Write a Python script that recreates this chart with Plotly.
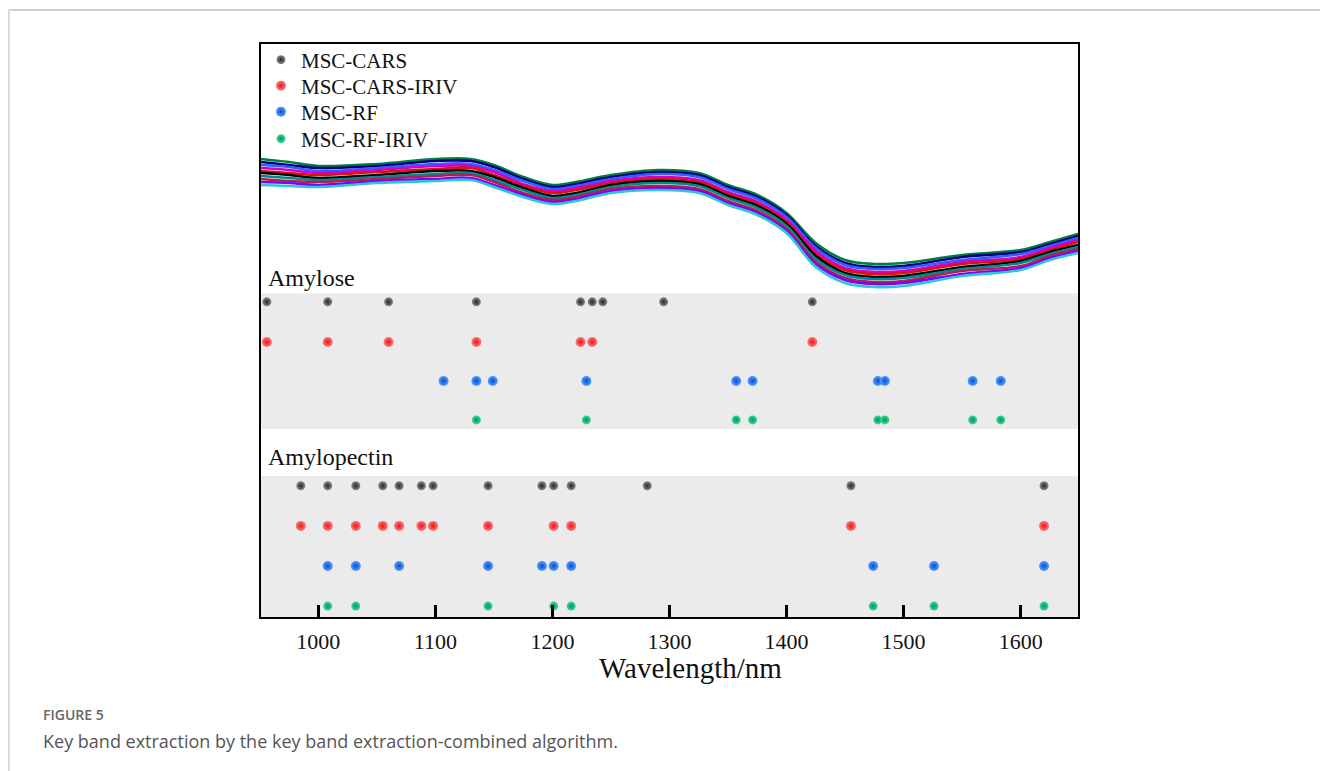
import plotly.graph_objects as go

# ---- spectra (reflectance) sampled at these wavelengths ----
wavelengths = [951, 975, 1000, 1050, 1100, 1130, 1150, 1175, 1200, 1220, 1250, 1290,
               1325, 1350, 1375, 1400, 1425, 1450, 1475, 1500, 1550, 1600, 1625, 1649]

spectrum_01 = [0.541, 0.538, 0.534, 0.536, 0.541, 0.541, 0.535, 0.523, 0.515, 0.518, 0.525, 0.530,
               0.527, 0.515, 0.505, 0.487, 0.457, 0.440, 0.436, 0.437, 0.445, 0.450, 0.458, 0.466]
spectrum_02 = [0.538, 0.535, 0.532, 0.534, 0.539, 0.539, 0.533, 0.521, 0.513, 0.516, 0.523, 0.528,
               0.525, 0.513, 0.503, 0.485, 0.454, 0.437, 0.433, 0.434, 0.443, 0.448, 0.456, 0.464]
spectrum_03 = [0.535, 0.533, 0.529, 0.532, 0.536, 0.536, 0.530, 0.519, 0.511, 0.514, 0.521, 0.526,
               0.523, 0.511, 0.501, 0.483, 0.452, 0.435, 0.431, 0.432, 0.440, 0.446, 0.454, 0.462]
spectrum_04 = [0.532, 0.530, 0.527, 0.530, 0.534, 0.534, 0.528, 0.516, 0.509, 0.512, 0.519, 0.523,
               0.520, 0.508, 0.498, 0.480, 0.449, 0.432, 0.428, 0.429, 0.438, 0.443, 0.452, 0.460]
spectrum_05 = [0.529, 0.527, 0.525, 0.528, 0.531, 0.532, 0.525, 0.514, 0.507, 0.510, 0.517, 0.521,
               0.518, 0.506, 0.496, 0.478, 0.446, 0.430, 0.426, 0.427, 0.436, 0.441, 0.450, 0.458]
spectrum_06 = [0.527, 0.525, 0.522, 0.525, 0.529, 0.529, 0.523, 0.512, 0.504, 0.507, 0.515, 0.519,
               0.516, 0.504, 0.494, 0.476, 0.444, 0.427, 0.423, 0.424, 0.433, 0.439, 0.448, 0.455]
spectrum_07 = [0.524, 0.522, 0.520, 0.523, 0.526, 0.527, 0.520, 0.510, 0.502, 0.505, 0.513, 0.517,
               0.514, 0.502, 0.492, 0.474, 0.441, 0.425, 0.421, 0.422, 0.431, 0.437, 0.446, 0.453]
spectrum_08 = [0.521, 0.519, 0.518, 0.521, 0.524, 0.525, 0.518, 0.507, 0.500, 0.503, 0.511, 0.514,
               0.511, 0.499, 0.489, 0.471, 0.438, 0.422, 0.418, 0.419, 0.429, 0.434, 0.444, 0.451]
spectrum_09 = [0.518, 0.517, 0.515, 0.519, 0.521, 0.522, 0.515, 0.505, 0.498, 0.501, 0.509, 0.512,
               0.509, 0.497, 0.487, 0.469, 0.436, 0.420, 0.416, 0.417, 0.426, 0.432, 0.442, 0.449]
spectrum_10 = [0.515, 0.514, 0.513, 0.517, 0.519, 0.520, 0.513, 0.503, 0.496, 0.499, 0.507, 0.510,
               0.507, 0.495, 0.485, 0.467, 0.433, 0.417, 0.413, 0.414, 0.424, 0.430, 0.440, 0.447]

spectra = [spectrum_01, spectrum_02, spectrum_03, spectrum_04, spectrum_05,
           spectrum_06, spectrum_07, spectrum_08, spectrum_09, spectrum_10]
spectrum_colors = ["#008040", "#000080", "#2f5fff", "#d000d0", "#e01010",
                   "#000000", "#008a8a", "#b02050", "#8000ff", "#30c8d0"]

# ---- selected key bands (nm) ----
methods = ["MSC-CARS", "MSC-CARS-IRIV", "MSC-RF", "MSC-RF-IRIV"]

amylose_cars = [956, 1008, 1060, 1135, 1224, 1234, 1243, 1295, 1422]
amylose_cars_iriv = [956, 1008, 1060, 1135, 1224, 1234, 1422]
amylose_rf = [1107, 1135, 1149, 1229, 1357, 1371, 1478, 1484, 1559, 1583]
amylose_rf_iriv = [1135, 1229, 1357, 1371, 1478, 1484, 1559, 1583]

amylopectin_cars = [985, 1008, 1032, 1055, 1069, 1088, 1098, 1145, 1191, 1201, 1216, 1281, 1455, 1620]
amylopectin_cars_iriv = [985, 1008, 1032, 1055, 1069, 1088, 1098, 1145, 1201, 1216, 1455, 1620]
amylopectin_rf = [1008, 1032, 1069, 1145, 1191, 1201, 1216, 1474, 1526, 1620]
amylopectin_rf_iriv = [1008, 1032, 1145, 1201, 1216, 1474, 1526, 1620]

tick_values = [1000, 1100, 1200, 1300, 1400, 1500, 1600]

# ---- styling ----
dot_fill = ["#8a8a8a", "#ff7a7a", "#5a9cff", "#3fd898"]
dot_edge = ["#262626", "#e8161c", "#0052cc", "#00955a"]
dot_size = [9, 10, 10, 9]

# vertical slots (primary y axis, 0..100) for the band rows
amylose_rows = [55.0, 48.0, 41.2, 34.4]
amylopectin_rows = [22.9, 15.9, 8.9, 1.9]

# plot area in pixels, used to place page-level decorations
PL, PR, PT, PB = 261, 1078, 44, 617


def px_x(x):
    return (x - PL) / (PR - PL)


def px_y(y):
    return (PB - y) / (PB - PT)


fig = go.Figure()

for s, c in zip(spectra, spectrum_colors):
    fig.add_trace(go.Scatter(
        x=wavelengths, y=s, mode="lines", yaxis="y2",
        line=dict(color=c, width=2.6, shape="spline", smoothing=1.0),
        showlegend=False, hoverinfo="skip"))

amylose_sets = [amylose_cars, amylose_cars_iriv, amylose_rf, amylose_rf_iriv]
amylopectin_sets = [amylopectin_cars, amylopectin_cars_iriv, amylopectin_rf, amylopectin_rf_iriv]
legend_ids = ["legend", "legend2", "legend3", "legend4"]

for i, name in enumerate(methods):
    marker = dict(color=dot_fill[i], size=dot_size[i],
                  gradient=dict(type="radial", color=dot_edge[i]),
                  line=dict(width=0))
    fig.add_trace(go.Scatter(
        x=amylose_sets[i], y=[amylose_rows[i]] * len(amylose_sets[i]),
        mode="markers", name=name, legendgroup=name, legend=legend_ids[i],
        marker=marker))
    fig.add_trace(go.Scatter(
        x=amylopectin_sets[i], y=[amylopectin_rows[i]] * len(amylopectin_sets[i]),
        mode="markers", name=name, legendgroup=name, legend=legend_ids[i],
        showlegend=False, marker=marker))

shapes = [
    # grey panels behind the band rows
    dict(type="rect", xref="paper", yref="y", x0=0, x1=1, y0=32.8, y1=56.5,
         fillcolor="#ebebeb", line=dict(width=0), layer="below"),
    dict(type="rect", xref="paper", yref="y", x0=0, x1=1, y0=0, y1=24.6,
         fillcolor="#ebebeb", line=dict(width=0), layer="below"),
    # page frame
    dict(type="line", xref="paper", yref="paper", x0=px_x(9), x1=px_x(1320),
         y0=px_y(10), y1=px_y(10), line=dict(color="#cfcfcf", width=2)),
    dict(type="line", xref="paper", yref="paper", x0=px_x(9), x1=px_x(9),
         y0=px_y(10), y1=px_y(771), line=dict(color="#cfcfcf", width=1.5)),
]

serif = "Liberation Serif, Times New Roman, serif"
sans = "Open Sans, Noto Sans, sans-serif"
annotations = [
    dict(text="Amylose", xref="paper", yref="paper", x=px_x(266), y=px_y(278),
         xanchor="left", yanchor="middle", showarrow=False,
         font=dict(family=serif, size=24, color="#111111")),
    dict(text="Amylopectin", xref="paper", yref="paper", x=px_x(266), y=px_y(457),
         xanchor="left", yanchor="middle", showarrow=False,
         font=dict(family=serif, size=24, color="#111111")),
    dict(text="Wavelength/nm", xref="paper", yref="paper", x=px_x(690), y=px_y(668),
         xanchor="center", yanchor="middle", showarrow=False,
         font=dict(family=serif, size=29, color="#111111")),
    dict(text="FIGURE 5", xref="paper", yref="paper", x=px_x(41), y=px_y(714),
         xanchor="left", yanchor="middle", showarrow=False,
         font=dict(family=sans, size=14, color="#666666", weight=600)),
    dict(text="Key band extraction by the key band extraction-combined algorithm.",
         xref="paper", yref="paper", x=px_x(41), y=px_y(741),
         xanchor="left", yanchor="middle", showarrow=False,
         font=dict(family=sans, size=18, color="#555555")),
]

legend_rows = [60, 86, 112, 139]
legend_style = dict(x=0.0, xanchor="left", yanchor="middle",
                    bgcolor="rgba(0,0,0,0)", borderwidth=0,
                    font=dict(family=serif, size=21, color="#111111"),
                    itemsizing="trace")

fig.update_layout(
    width=1320, height=771,
    margin=dict(l=PL, r=1320 - PR, t=PT, b=771 - PB, pad=0),
    paper_bgcolor="white", plot_bgcolor="white",
    showlegend=True,
    legend=dict(legend_style, y=px_y(legend_rows[0])),
    legend2=dict(legend_style, y=px_y(legend_rows[1])),
    legend3=dict(legend_style, y=px_y(legend_rows[2])),
    legend4=dict(legend_style, y=px_y(legend_rows[3])),
    xaxis=dict(range=[951, 1649], tickvals=tick_values, ticks="inside",
               ticklen=12, tickwidth=3, tickcolor="black",
               ticklabelstandoff=4,
               showline=True, linecolor="black", linewidth=2, mirror=True,
               showgrid=False, zeroline=False,
               tickfont=dict(family=serif, size=22, color="#111111")),
    yaxis=dict(range=[0, 100], showticklabels=False, ticks="",
               showline=True, linecolor="black", linewidth=2, mirror=True,
               showgrid=False, zeroline=False),
    yaxis2=dict(range=[0.083, 0.656], overlaying="y", side="right",
                showticklabels=False, ticks="", showline=False,
                showgrid=False, zeroline=False),
    shapes=shapes,
    annotations=annotations,
)

fig.write_html("out.html")
